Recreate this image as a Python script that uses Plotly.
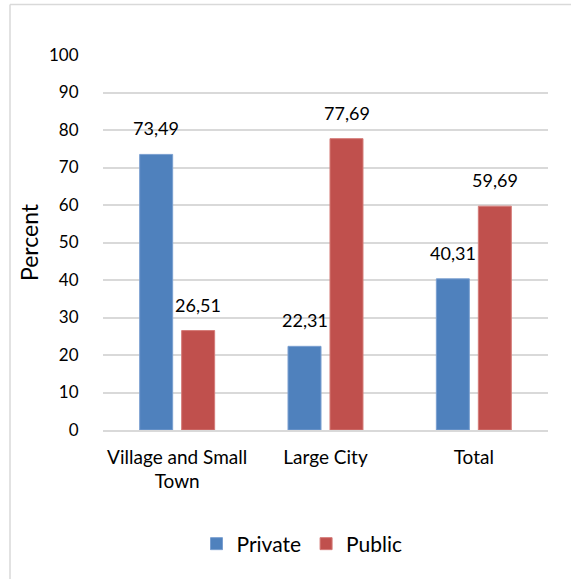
import plotly.graph_objects as go

categories = ["Village and Small<br>Town", "Large City", "Total"]
private = [73.49, 22.31, 40.31]
public = [26.51, 77.69, 59.69]
y_ticks = [0, 10, 20, 30, 40, 50, 60, 70, 80, 90, 100]

FONT = "Lato, 'Open Sans', sans-serif"

def fmt(v):
    return f"{v:.2f}".replace(".", ",")

fig = go.Figure()
fig.add_trace(go.Bar(
    name="Private", x=categories, y=private,
    marker=dict(color="#4F81BD", line=dict(color="#7A9FD0", width=1)),
))
fig.add_trace(go.Bar(
    name="Public", x=categories, y=public,
    marker=dict(color="#C0504D", line=dict(color="#D47B78", width=1)),
))

# value labels above each bar (offset to the bar's slot within its group)
annotations = []
for series, shift in ((private, -21), (public, 21)):
    for cat, v in zip(categories, series):
        annotations.append(dict(
            x=cat, y=v, xref="x", yref="y", text=fmt(v), showarrow=False,
            xshift=shift, yshift=13, yanchor="bottom",
            font=dict(size=18, color="#000000"),
        ))

L, R, T, B = 103, 548, 55, 430
W, H = 571, 579
pw, ph = R - L, B - T

def px_x(x):
    return (x - L) / pw

def px_y(y):
    return (B - y) / ph

fig.update_layout(
    width=W, height=H,
    margin=dict(l=L, r=W - R, t=T, b=H - B, pad=0),
    paper_bgcolor="white", plot_bgcolor="white",
    font=dict(family=FONT, size=17, color="#000000"),
    barmode="group", bargap=0.434, bargroupgap=0.214,
    showlegend=True,
    legend=dict(
        orientation="h", x=px_x(302), xanchor="center",
        y=px_y(544), yanchor="middle",
        font=dict(size=21), itemwidth=30, traceorder="normal",
    ),
    xaxis=dict(
        showgrid=False, showline=True, linecolor="#D9D9D9", linewidth=1.5,
        ticks="outside", ticklen=9, tickcolor="rgba(0,0,0,0)",
        tickfont=dict(size=19),
    ),
    yaxis=dict(
        range=[0, 100], tickvals=y_ticks, showgrid=True,
        gridcolor="#D9D9D9", gridwidth=1.5, zeroline=False,
        showline=False, ticks="outside", ticklen=20, tickcolor="rgba(0,0,0,0)",
        tickfont=dict(size=17),
        title=dict(text="Percent", font=dict(size=23), standoff=3),
    ),
    annotations=annotations,
    shapes=[
        dict(type="line", xref="paper", yref="paper",
             x0=px_x(10), x1=px_x(10), y0=px_y(4.5), y1=px_y(700),
             line=dict(color="#D9D9D9", width=1.5)),
        dict(type="line", xref="paper", yref="paper",
             x0=px_x(10), x1=px_x(700), y0=px_y(4.5), y1=px_y(4.5),
             line=dict(color="#D9D9D9", width=1.5)),
    ],
)

fig.write_html("out.html")
